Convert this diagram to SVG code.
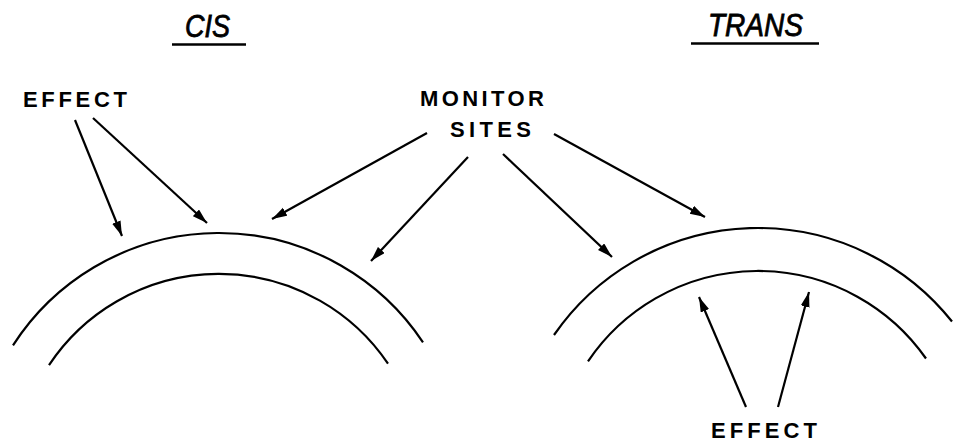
<svg xmlns="http://www.w3.org/2000/svg" width="953" height="442" viewBox="0 0 953 442">
<style>
.lbl{font-family:"Liberation Sans",Arial,sans-serif;font-weight:bold;font-size:22px;fill:#000}
.ttl{font-family:"Liberation Sans",Arial,sans-serif;font-style:italic;font-size:31px;fill:#000;stroke:#000;stroke-width:0.8}
.arc{fill:none;stroke:#000;stroke-width:2.2}
.con{fill:none;stroke:#000;stroke-width:2.2;marker-end:url(#ah)}
.ul{stroke:#000;stroke-width:2.5}
</style>
<defs>
<marker id="ah" markerUnits="userSpaceOnUse" markerWidth="16" markerHeight="10" refX="15" refY="4.5" orient="auto">
<path d="M0,0 L15,4.5 L0,9 Z" fill="#000"/>
</marker>
</defs>
<rect width="953" height="442" fill="#fff"/>
<g id="title-cis">
<text class="ttl" x="185" y="37" textLength="45" lengthAdjust="spacingAndGlyphs">CIS</text>
<line class="ul" x1="172" y1="44.5" x2="246" y2="44.5"/>
</g>
<g id="title-trans">
<text class="ttl" x="708" y="36" textLength="95" lengthAdjust="spacingAndGlyphs">TRANS</text>
<line class="ul" x1="691" y1="43.5" x2="819" y2="43.5"/>
</g>
<g id="cis-membrane">
<path class="arc" d="M13,345.4 A245,245 0 0 1 423,342.3"/>
<path class="arc" d="M49,365.2 A204,204 0 0 1 388,363.7"/>
</g>
<g id="trans-membrane">
<path class="arc" d="M554,335 A248,248 0 0 1 952,321.5"/>
<path class="arc" d="M588,361.4 A205,205 0 0 1 926,358.5"/>
</g>
<g id="label-effect-cis">
<text class="lbl" x="23" y="107" textLength="104" lengthAdjust="spacing">EFFECT</text>
</g>
<g id="label-monitor-sites">
<text class="lbl" x="420" y="106" textLength="124" lengthAdjust="spacing">MONITOR</text>
<text class="lbl" x="450" y="137" textLength="81" lengthAdjust="spacing">SITES</text>
</g>
<g id="label-effect-trans">
<text class="lbl" x="711" y="438" textLength="106" lengthAdjust="spacing">EFFECT</text>
</g>
<g id="connectors">
<line class="con" x1="75" y1="120" x2="122" y2="236"/>
<line class="con" x1="93" y1="118" x2="207" y2="223"/>
<line class="con" x1="427" y1="133" x2="272" y2="219"/>
<line class="con" x1="468" y1="157" x2="371" y2="261"/>
<line class="con" x1="503" y1="154" x2="612" y2="257"/>
<line class="con" x1="554" y1="134" x2="705" y2="217"/>
<line class="con" x1="746" y1="407" x2="699" y2="297"/>
<line class="con" x1="778" y1="407" x2="809" y2="292"/>
</g>
</svg>
